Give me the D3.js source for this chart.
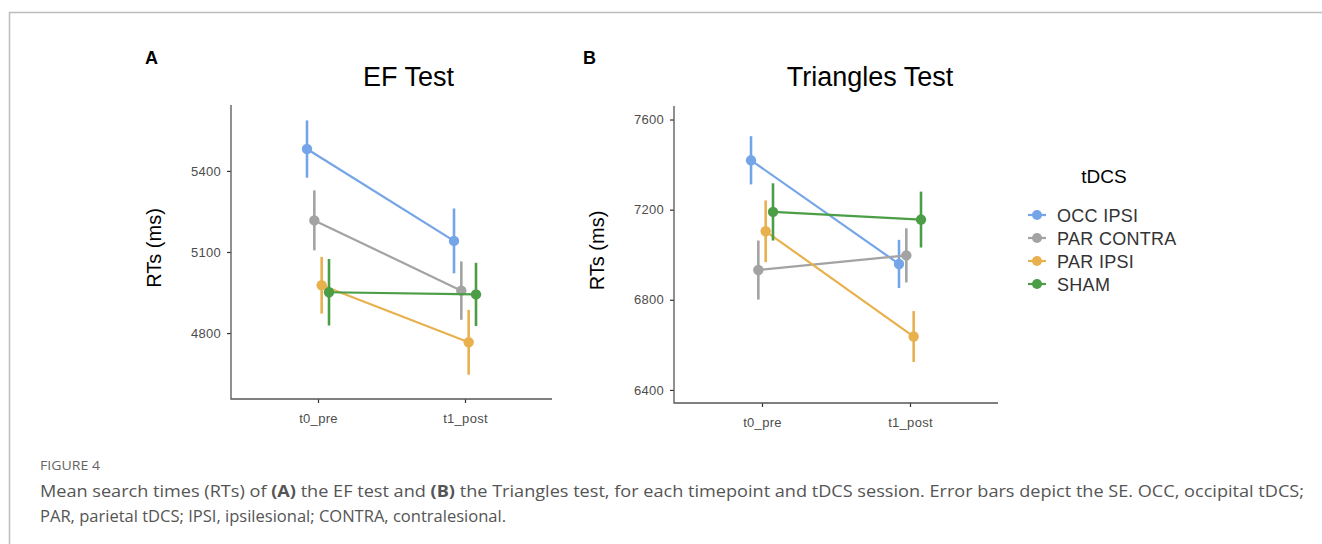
<!DOCTYPE html>
<html>
<head>
<meta charset="utf-8">
<script src="https://cdn.jsdelivr.net/npm/d3@7"></script>
<style>
  body { margin: 0; background: #fff; }
  svg { display: block; }
</style>
</head>
<body>
<svg id="chart" width="1322" height="544"></svg>
<script>
const timepoints = ['t0_pre', 't1_post'];
const sessions = ['OCC IPSI', 'PAR CONTRA', 'PAR IPSI', 'SHAM'];
const colors = ['#74a5e8', '#a3a3a3', '#e8b14e', '#4b9e46'];

// mean RT and SE per session, [t0_pre, t1_post]
const efMean = [[5481, 5141], [5217, 4957], [4977, 4766], [4951, 4943]];
const efSE = [[106, 120], [111, 108], [105, 120], [123, 117]];
const triMean = [[7419, 6959], [6932, 6997], [7104, 6637], [7190, 7156]];
const triSE = [[107, 107], [131, 120], [137, 113], [127, 124]];

const efTicks = [4800, 5100, 5400];
const triTicks = [6400, 6800, 7200, 7600];

const svg = d3.select('#chart');

// page frame
svg.append('path')
    .attr('d', 'M9.5,544 V12.5 H1322')
    .attr('fill', 'none')
    .attr('stroke', '#bdbdbd')
    .attr('stroke-width', 1.5);

const panel = (opt) => {
    const g = svg.append('g');
    const x = d3.scalePoint().domain(timepoints).range([opt.left + opt.pad, opt.right - opt.pad]);
    const y = d3.scaleLinear().domain(opt.domain).range([opt.bottom, opt.top]);
    const dodge = d3.scalePoint().domain(sessions).range([-11, 11]);

    g.append('g')
        .attr('transform', `translate(${opt.left},0)`)
        .call(d3.axisLeft(y).tickValues(opt.ticks).tickSize(4).tickPadding(6).tickFormat(d3.format('d')))
        .call(a => a.select('.domain').remove());
    g.append('g')
        .attr('transform', `translate(0,${opt.bottom})`)
        .call(d3.axisBottom(x).tickSize(4).tickPadding(11))
        .call(a => a.select('.domain').remove());
    g.selectAll('.tick line').attr('stroke', '#333').attr('stroke-width', 1.2);
    g.selectAll('.tick text')
        .attr('fill', '#4d4d4d')
        .style('font-family', 'Liberation Sans, Arial, sans-serif')
        .style('font-size', '13px')
        .style('letter-spacing', '0.3px');

    g.append('path')
        .attr('d', `M${opt.left},${opt.top} V${opt.bottom} H${opt.right}`)
        .attr('fill', 'none')
        .attr('stroke', '#555')
        .attr('stroke-width', 1.3);

    sessions.forEach((s, i) => {
        const pts = timepoints.map((t, j) => ({
            x: x(t) + dodge(s),
            m: opt.mean[i][j],
            se: opt.se[i][j]
        }));
        const sg = g.append('g');
        sg.append('path')
            .attr('d', d3.line().x(d => d.x).y(d => y(d.m))(pts))
            .attr('fill', 'none')
            .attr('stroke', colors[i])
            .attr('stroke-width', 2.2);
        sg.selectAll('line.err').data(pts).enter().append('line')
            .attr('x1', d => d.x).attr('x2', d => d.x)
            .attr('y1', d => y(d.m - d.se)).attr('y2', d => y(d.m + d.se))
            .attr('stroke', colors[i])
            .attr('stroke-width', 2.6);
        sg.selectAll('circle').data(pts).enter().append('circle')
            .attr('cx', d => d.x).attr('cy', d => y(d.m))
            .attr('r', 5.2)
            .attr('fill', colors[i]);
    });

    g.append('text')
        .attr('x', (opt.left + opt.right) / 2 + opt.titleShift)
        .attr('y', 86)
        .attr('text-anchor', 'middle')
        .style('font-family', 'Liberation Sans, Arial, sans-serif')
        .style('font-size', '27px')
        .text(opt.title);

    g.append('text')
        .attr('transform', `translate(${opt.left - 70},${(opt.top + opt.bottom) / 2 - 4}) rotate(-90)`)
        .attr('text-anchor', 'middle')
        .style('font-family', 'Liberation Sans, Arial, sans-serif')
        .style('font-size', '20px')
        .text('RTs (ms)');

    g.append('text')
        .attr('x', opt.letterX)
        .attr('y', 64)
        .style('font-family', 'Liberation Sans, Arial, sans-serif')
        .style('font-weight', 'bold')
        .style('font-size', '18px')
        .text(opt.letter);
};

panel({
    left: 231, right: 552, top: 105, bottom: 399,
    pad: 87, domain: [4556, 5644], ticks: efTicks,
    mean: efMean, se: efSE, title: 'EF Test', titleShift: 17,
    letter: 'A', letterX: 145
});

panel({
    left: 674, right: 998, top: 106, bottom: 403,
    pad: 88, domain: [6342, 7660], ticks: triTicks,
    mean: triMean, se: triSE, title: 'Triangles Test', titleShift: 34,
    letter: 'B', letterX: 583
});

// legend
const leg = svg.append('g');
leg.append('text')
    .attr('x', 1104).attr('y', 183)
    .attr('text-anchor', 'middle')
    .style('font-family', 'Liberation Sans, Arial, sans-serif')
    .style('font-size', '19px')
    .text('tDCS');
const item = leg.selectAll('g.item').data(sessions).enter().append('g')
    .attr('transform', (d, i) => `translate(1037,${215 + i * 23})`);
item.append('line')
    .attr('x1', -9).attr('x2', 9)
    .attr('stroke', (d, i) => colors[i]).attr('stroke-width', 2.2);
item.append('circle').attr('r', 5).attr('fill', (d, i) => colors[i]);
item.append('text')
    .attr('x', 20).attr('y', 6.5)
    .attr('fill', '#333')
    .style('font-family', 'Liberation Sans, Arial, sans-serif')
    .style('font-size', '18px')
    .style('letter-spacing', '0.3px')
    .text(d => d);

// caption
const cap = svg.append('g').style('font-family', 'Open Sans, sans-serif');
cap.append('text')
    .attr('x', 40).attr('y', 470)
    .attr('fill', '#666')
    .style('font-size', '13px')
    .attr('textLength', 60)
    .attr('lengthAdjust', 'spacingAndGlyphs')
    .text('FIGURE 4');
const line1 = cap.append('text')
    .attr('x', 40).attr('y', 497)
    .attr('fill', '#555')
    .style('font-size', '16px')
    .attr('textLength', 1264)
    .attr('lengthAdjust', 'spacingAndGlyphs');
line1.append('tspan').text('Mean search times (RTs) of ');
line1.append('tspan').style('font-weight', 'bold').text('(A)');
line1.append('tspan').text(' the EF test and ');
line1.append('tspan').style('font-weight', 'bold').text('(B)');
line1.append('tspan').text(' the Triangles test, for each timepoint and tDCS session. Error bars depict the SE. OCC, occipital tDCS;');
cap.append('text')
    .attr('x', 40).attr('y', 522)
    .attr('fill', '#555')
    .style('font-size', '16px')
    .attr('textLength', 466)
    .attr('lengthAdjust', 'spacingAndGlyphs')
    .text('PAR, parietal tDCS; IPSI, ipsilesional; CONTRA, contralesional.');
</script>
</body>
</html>
